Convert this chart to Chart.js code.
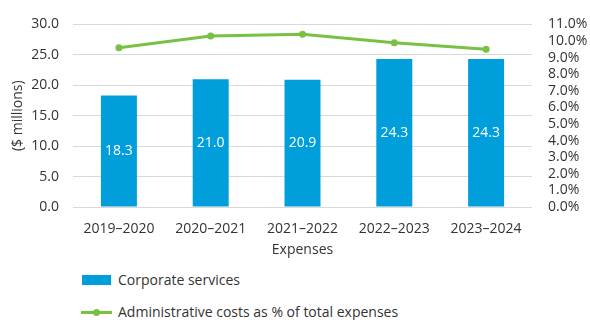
<!DOCTYPE html>
<html>
<head>
<meta charset="utf-8">
<script src="https://cdn.jsdelivr.net/npm/chart.js@4/dist/chart.umd.min.js"></script>
<style>
  html, body { margin: 0; padding: 0; background: #fff; }
  body { width: 590px; height: 320px; position: relative; overflow: hidden;
         font-family: "Open Sans", sans-serif; color: #333; }
  #wrap { position: absolute; left: 0; top: 0; width: 590px; height: 260px; }
  .legend-item { position: absolute; left: 81px; font-size: 14px; line-height: 18px;
                 display: flex; align-items: center; white-space: nowrap; }
  .swatch-bar { width: 29px; height: 10px; background: #009FDB; margin-right: 7px; margin-left: 1px; }
  .swatch-line { position: relative; width: 31px; height: 10px; margin-right: 6px; }
  .swatch-line::before { content: ""; position: absolute; left: 0; right: 0; top: 3.5px; height: 3px; background: #79C143; }
  .swatch-line::after { content: ""; position: absolute; left: 11.5px; top: 1.5px; width: 7px; height: 7px; border-radius: 50%; background: #79C143; }
</style>
</head>
<body>
<div id="wrap"><canvas id="chart" width="590" height="260"></canvas></div>
<div class="legend-item" style="top:271px"><span class="swatch-bar"></span><span id="lg0"></span></div>
<div class="legend-item" style="top:303px"><span class="swatch-line"></span><span id="lg1"></span></div>
<script>
// Fiscal years on the category axis
const years = ['2019–2020', '2020–2021', '2021–2022', '2022–2023', '2023–2024'];
// Corporate services spending, $ millions
const corporateServices = [18.3, 21.0, 20.9, 24.3, 24.3];
// Administrative costs as a share of total expenses, %
const adminShare = [9.6, 10.3, 10.4, 9.9, 9.5];

const barLabel = 'Corporate services';
const lineLabel = 'Administrative costs as % of total expenses';
const xTitle = 'Expenses';
const yTitle = '($ millions)';

document.getElementById('lg0').textContent = barLabel;
document.getElementById('lg1').textContent = lineLabel;

const FONT = { family: '"Open Sans", sans-serif', size: 14 };
const TEXT = '#333333';

// Writes each bar's value in white at the middle of the bar
const barValues = {
  id: 'barValues',
  afterDatasetsDraw(chart) {
    const meta = chart.getDatasetMeta(0);
    const ctx = chart.ctx;
    ctx.save();
    ctx.font = `${FONT.size}px ${FONT.family}`;
    ctx.fillStyle = '#ffffff';
    ctx.textAlign = 'center';
    ctx.textBaseline = 'middle';
    meta.data.forEach((bar, i) => {
      const c = bar.getCenterPoint();
      ctx.fillText(corporateServices[i].toFixed(1), c.x, c.y);
    });
    ctx.restore();
  }
};

new Chart(document.getElementById('chart'), {
  data: {
    labels: years,
    datasets: [
      {
        type: 'bar',
        label: barLabel,
        data: corporateServices,
        backgroundColor: '#009FDB',
        barPercentage: 0.8,
        categoryPercentage: 0.49,
        yAxisID: 'y',
        order: 1
      },
      {
        type: 'line',
        label: lineLabel,
        data: adminShare,
        borderColor: '#79C143',
        backgroundColor: '#79C143',
        borderWidth: 3,
        pointRadius: 3.5,
        pointHoverRadius: 3.5,
        pointBackgroundColor: '#79C143',
        pointBorderWidth: 0,
        tension: 0,
        yAxisID: 'y1',
        order: 0
      }
    ]
  },
  options: {
    responsive: false,
    animation: false,
    layout: { padding: { top: 20, left: 0, right: 0, bottom: 0 } },
    plugins: { legend: { display: false }, tooltip: { enabled: false } },
    scales: {
      x: {
        grid: { display: false, drawTicks: false },
        border: { display: false },
        ticks: { color: TEXT, font: FONT, padding: 14, maxRotation: 0, autoSkip: false },
        title: { display: true, text: xTitle, color: TEXT, font: FONT, padding: { top: 0, bottom: 2 } },
        afterFit(scale) { scale.height = 53; }
      },
      y: {
        position: 'left',
        min: 0, max: 30,
        ticks: { stepSize: 5, color: TEXT, font: FONT, padding: 14, autoSkip: false,
                 callback: v => Number(v).toFixed(1) },
        grid: { color: '#d9d9d9', drawTicks: false, lineWidth: 1 },
        border: { display: false },
        title: { display: true, text: yTitle, color: TEXT, font: FONT, padding: { top: 10, bottom: 0 } },
        afterFit(scale) { scale.width = 73; }
      },
      y1: {
        position: 'right',
        min: 0, max: 11,
        ticks: { stepSize: 1, color: TEXT, font: FONT, padding: 16, autoSkip: false,
                 callback: v => Number(v).toFixed(1) + '%' },
        grid: { drawOnChartArea: false, drawTicks: false },
        border: { display: false },
        afterFit(scale) { scale.width = 58; }
      }
    }
  },
  plugins: [barValues]
});
</script>
</body>
</html>
